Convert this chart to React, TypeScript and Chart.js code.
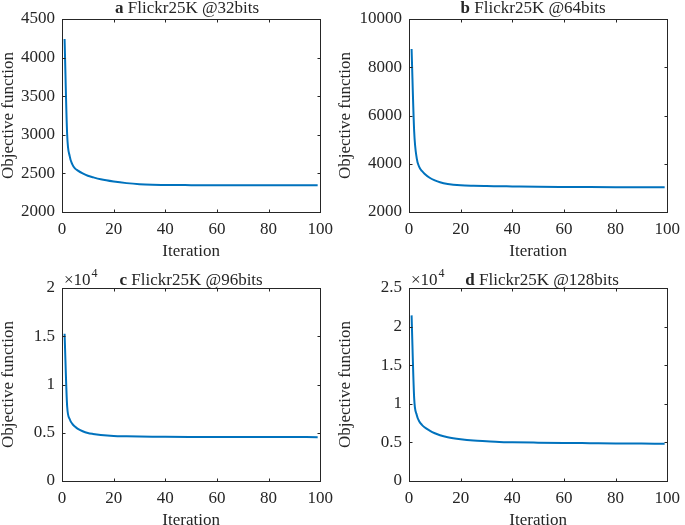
import React, { useEffect, useRef } from "react";
import { Chart, registerables } from "chart.js";

Chart.register(...registerables);

// ---------- data ----------
const iterations = [1, 2, 3, 4, 5, 6, 8, 10, 12, 15, 20, 25, 30, 35, 40, 50, 60, 70, 80, 90, 99];

const objective32 = [4240, 3000, 2720, 2617, 2565, 2540, 2500, 2470, 2450, 2424, 2395, 2374, 2360, 2353, 2350, 2348, 2347, 2346, 2346, 2345, 2345];
const objective64 = [8760, 5350, 4220, 3860, 3700, 3590, 3420, 3310, 3230, 3160, 3105, 3085, 3075, 3068, 3060, 3045, 3038, 3034, 3031, 3029, 3028];
const objective96 = [15260, 7720, 6400, 5920, 5640, 5430, 5160, 4980, 4880, 4775, 4670, 4635, 4610, 4590, 4578, 4565, 4558, 4553, 4550, 4548, 4546];
const objective128 = [21450, 10730, 8560, 7700, 7270, 6960, 6530, 6185, 5925, 5665, 5405, 5235, 5145, 5060, 5020, 4970, 4930, 4900, 4870, 4850, 4830];

const panelLetters = ["a", "b", "c", "d"];
const panelTitles = ["Flickr25K @32bits", "Flickr25K @64bits", "Flickr25K @96bits", "Flickr25K @128bits"];
const xLabel = "Iteration";
const yLabel = "Objective function";

// ---------- styling ----------
const FONT = '"Liberation Serif", "Times New Roman", serif';
const INK = "#262626";
const LINE = "#0072BD";

const matlabPlugin = {
  id: "matlabAxes",
  afterDraw(chart: any, _args: any, opts: any) {
    const { ctx, chartArea, scales } = chart;
    const left = Math.round(chartArea.left);
    const right = Math.round(chartArea.right);
    const top = Math.round(chartArea.top);
    const bottom = Math.round(chartArea.bottom);
    ctx.save();
    ctx.strokeStyle = INK;
    ctx.lineWidth = 1;
    ctx.strokeRect(left + 0.5, top + 0.5, right - left, bottom - top);
    const tl = 3;
    ctx.beginPath();
    for (const t of scales.x.ticks) {
      const px = Math.round(scales.x.getPixelForValue(t.value)) + 0.5;
      ctx.moveTo(px, bottom + 0.5);
      ctx.lineTo(px, bottom + 0.5 - tl);
      ctx.moveTo(px, top + 0.5);
      ctx.lineTo(px, top + 0.5 + tl);
    }
    for (const t of scales.y.ticks) {
      const py = Math.round(scales.y.getPixelForValue(t.value)) + 0.5;
      ctx.moveTo(left + 0.5, py);
      ctx.lineTo(left + 0.5 + tl, py);
      ctx.moveTo(right + 0.5, py);
      ctx.lineTo(right + 0.5 - tl, py);
    }
    ctx.stroke();

    // title: bold letter + regular text
    ctx.fillStyle = INK;
    ctx.textBaseline = "alphabetic";
    ctx.textAlign = "left";
    const boldFont = `bold 17px ${FONT}`;
    const normFont = `17px ${FONT}`;
    ctx.font = boldFont;
    const wLetter = ctx.measureText(opts.letter).width;
    ctx.font = normFont;
    const rest = " " + opts.title;
    const wRest = ctx.measureText(rest).width;
    const cx = (chartArea.left + chartArea.right) / 2 + (opts.titleShift || 0);
    const ty = top - opts.titleGap;
    const x0 = cx - (wLetter + wRest) / 2;
    ctx.font = boldFont;
    ctx.fillText(opts.letter, x0, ty);
    ctx.font = normFont;
    ctx.fillText(rest, x0 + wLetter, ty);

    // exponent label
    if (opts.exponent) {
      ctx.font = `17px ${FONT}`;
      const ex = left + 2;
      ctx.fillText("\u00d710", ex, ty);
      const w = ctx.measureText("\u00d710").width;
      ctx.font = `12px ${FONT}`;
      ctx.fillText(String(opts.exponent), ex + w + 1, ty - 8);
    }
    ctx.restore();
  },
};

type PanelProps = {
  idx: number;
  values: number[];
  yMin: number;
  yMax: number;
  yStep: number;
  exponent?: number;
  left: number;
  top: number;
  width: number;
  height: number;
  yAxisWidth: number;
  padRight: number;
  titleGap: number;
  titleShift: number;
};

function Panel(p: PanelProps) {
  const ref = useRef<HTMLCanvasElement | null>(null);
  useEffect(() => {
    if (!ref.current) return;
    const scaleDiv = p.exponent ? Math.pow(10, p.exponent) : 1;
    const chart = new Chart(ref.current, {
      type: "line",
      data: {
        datasets: [
          {
            data: iterations.map((x, i) => ({ x, y: p.values[i] })),
            borderColor: LINE,
            borderWidth: 2,
            pointRadius: 0,
            fill: false,
            cubicInterpolationMode: "monotone",
          },
        ],
      },
      options: {
        responsive: false,
        animation: false,
        devicePixelRatio: 1,
        layout: { padding: { left: 0, right: p.padRight, top: 19, bottom: 0 } },
        plugins: {
          legend: { display: false },
          tooltip: { enabled: false },
          matlabAxes: {
            letter: panelLetters[p.idx],
            title: panelTitles[p.idx],
            titleGap: p.titleGap,
            titleShift: p.titleShift,
            exponent: p.exponent,
          },
        } as any,
        scales: {
          x: {
            type: "linear",
            min: 0,
            max: 100,
            grid: { display: false, drawTicks: false },
            border: { display: false },
            ticks: {
              stepSize: 20,
              padding: 7,
              color: INK,
              maxRotation: 0,
              font: { family: FONT, size: 17 },
            },
            title: {
              display: true,
              text: xLabel,
              color: INK,
              font: { family: FONT, size: 17, lineHeight: 1 },
              padding: { top: 0, bottom: 2 },
            },
            afterFit: (s: any) => {
              s.height = 50;
            },
          },
          y: {
            type: "linear",
            min: p.yMin,
            max: p.yMax,
            grid: { display: false, drawTicks: false },
            border: { display: false },
            ticks: {
              stepSize: p.yStep,
              padding: 7,
              color: INK,
              font: { family: FONT, size: 17 },
              callback: (v: any) => String(Number(v) / scaleDiv),
            },
            title: {
              display: true,
              text: yLabel,
              color: INK,
              font: { family: FONT, size: 17, lineHeight: 1 },
              padding: { top: 0, bottom: 0 },
            },
            afterFit: (s: any) => {
              s.width = p.yAxisWidth;
            },
          },
        },
      } as any,
      plugins: [matlabPlugin as any],
    });
    return () => chart.destroy();
  }, []);
  return (
    <canvas
      ref={ref}
      width={p.width}
      height={p.height}
      style={{ position: "absolute", left: p.left, top: p.top, width: p.width, height: p.height }}
    />
  );
}

export default function App() {
  return (
    <div
      style={{
        position: "fixed",
        left: 0,
        top: 0,
        width: 685,
        height: 525,
        overflow: "hidden",
        background: "#ffffff",
      }}
    >
      <Panel idx={0} values={objective32} yMin={2000} yMax={4500} yStep={500}
        left={0} top={0} width={340} height={262} yAxisWidth={62} padRight={14} titleGap={6} titleShift={-4} />
      <Panel idx={1} values={objective64} yMin={2000} yMax={10000} yStep={2000}
        left={337} top={0} width={350} height={262} yAxisWidth={72} padRight={14} titleGap={6} titleShift={-5} />
      <Panel idx={2} values={objective96} yMin={0} yMax={20000} yStep={5000} exponent={4}
        left={0} top={269} width={340} height={262} yAxisWidth={62} padRight={14} titleGap={3} titleShift={0} />
      <Panel idx={3} values={objective128} yMin={0} yMax={25000} yStep={5000} exponent={4}
        left={337} top={269} width={350} height={262} yAxisWidth={72} padRight={14} titleGap={3} titleShift={4} />
    </div>
  );
}
